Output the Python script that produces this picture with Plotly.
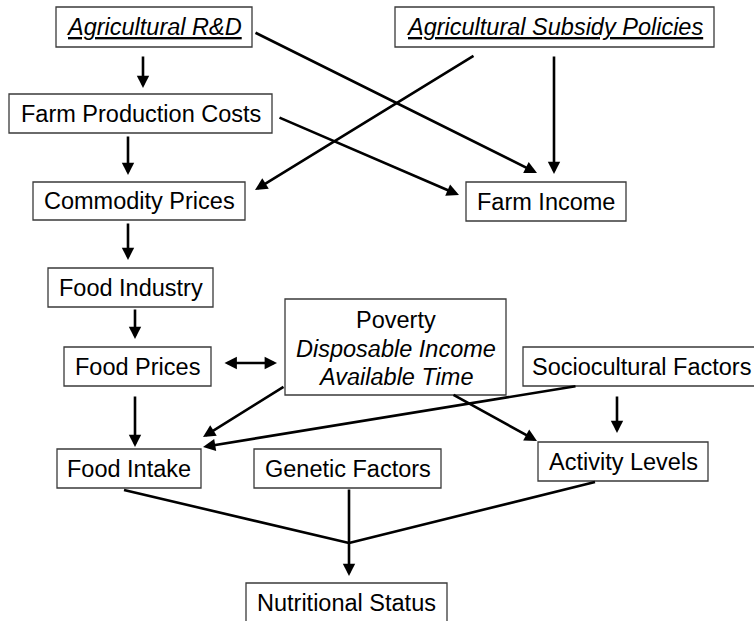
import plotly.graph_objects as go

# ---------------- data ----------------
node_ids = ["rd", "subsidy", "costs", "commodity", "farm_income", "industry",
            "food_prices", "poverty", "socio", "intake", "genetic", "activity", "nutrition"]
node_labels = ["<i><u>Agricultural R&D</u></i>",
               "<i><u>Agricultural Subsidy Policies</u></i>",
               "Farm Production Costs", "Commodity Prices", "Farm Income",
               "Food Industry", "Food Prices", None, "Sociocultural Factors",
               "Food Intake", "Genetic Factors", "Activity Levels", "Nutritional Status"]
poverty_lines = ["Poverty", "<i>Disposable Income</i>", "<i>Available Time</i>"]

arrow_from = ["rd", "rd", "subsidy", "subsidy", "costs", "costs", "commodity", "industry",
              "food_prices", "poverty", "poverty", "socio", "socio", "genetic"]
arrow_to = ["costs", "farm_income", "commodity", "farm_income", "commodity", "farm_income",
            "industry", "food_prices", "intake", "intake", "activity", "intake", "activity",
            "nutrition"]
two_way_from = ["food_prices"]
two_way_to = ["poverty"]
merge_from = ["intake", "activity"]
merge_to = ["nutrition", "nutrition"]

# ---------------- layout geometry (pixels, y down) ----------------
W, H = 754, 621
boxes = {
    "rd": (56, 7, 252, 47),
    "subsidy": (395, 7, 714, 47),
    "costs": (9, 94, 272, 133),
    "commodity": (33, 182, 245, 220),
    "farm_income": (466, 182, 626, 221),
    "industry": (48, 268, 213, 307),
    "food_prices": (64, 347, 211, 386),
    "poverty": (285, 299, 506, 395),
    "socio": (523, 347, 760, 386),
    "intake": (57, 449, 201, 488),
    "genetic": (254, 449, 441, 488),
    "activity": (538, 442, 708, 481),
    "nutrition": (246, 583, 447, 630),
}
text_pos = {"nutrition": (346.5, 603), "socio": (641, 366.5)}
arrow_geom = {
    ("rd", "costs"): ((143, 55), (143, 88)),
    ("rd", "farm_income"): ((254, 32), (537, 173)),
    ("subsidy", "commodity"): ((475, 55), (255, 190)),
    ("subsidy", "farm_income"): ((554, 55), (554, 174)),
    ("costs", "commodity"): ((128, 135), (128, 175)),
    ("costs", "farm_income"): ((278, 117), (459, 195)),
    ("commodity", "industry"): ((128, 222), (128, 260)),
    ("industry", "food_prices"): ((135, 308), (135, 339)),
    ("food_prices", "intake"): ((135, 395), (135, 447)),
    ("poverty", "intake"): ((285, 386), (203, 437)),
    ("poverty", "activity"): ((452, 394), (537, 441)),
    ("socio", "intake"): ((577, 386), (203, 447)),
    ("socio", "activity"): ((617, 395), (617, 433)),
    ("genetic", "nutrition"): ((349, 488), (349, 576)),
}
two_way_geom = {("food_prices", "poverty"): ((223, 363), (277, 363))}
merge_geom = {("intake", "nutrition"): ((124, 490), (349, 543)),
              ("activity", "nutrition"): ((595, 482), (349, 543))}

FONT = dict(family="Arial, Liberation Sans, sans-serif", size=23.5, color="black")

fig = go.Figure()
shapes = []
annotations = []

for nid, lab in zip(node_ids, node_labels):
    x0, y0, x1, y1 = boxes[nid]
    shapes.append(dict(type="rect", xref="x", yref="y", x0=x0, y0=y0, x1=x1, y1=y1,
                       line=dict(color="#3a3a3a", width=1.3), fillcolor="white", layer="below"))
    if lab is not None:
        cx, cy = text_pos.get(nid, ((x0 + x1) / 2, (y0 + y1) / 2))
        annotations.append(dict(x=cx, y=cy, xref="x", yref="y", text=lab, showarrow=False,
                                font=FONT, xanchor="center", yanchor="middle"))

for yy, line in zip([320, 349, 377], poverty_lines):
    annotations.append(dict(x=395.5, y=yy, xref="x", yref="y", text=line, showarrow=False,
                            font=FONT, xanchor="center", yanchor="middle"))

ARROW = dict(showarrow=True, arrowhead=2, arrowsize=0.95, arrowwidth=2.6,
             arrowcolor="black", standoff=0, startstandoff=0, text="",
             xref="x", yref="y", axref="x", ayref="y")

for f, t in zip(arrow_from, arrow_to):
    (tx, ty), (hx, hy) = arrow_geom[(f, t)]
    annotations.append(dict(x=hx, y=hy, ax=tx, ay=ty, **ARROW))

for f, t in zip(two_way_from, two_way_to):
    (tx, ty), (hx, hy) = two_way_geom[(f, t)]
    annotations.append(dict(x=hx, y=hy, ax=tx, ay=ty, arrowside="end+start",
                            startarrowhead=2, startarrowsize=0.95, **ARROW))

for f, t in zip(merge_from, merge_to):
    (x0, y0), (x1, y1) = merge_geom[(f, t)]
    shapes.append(dict(type="line", xref="x", yref="y", x0=x0, y0=y0, x1=x1, y1=y1,
                       line=dict(color="black", width=2.6)))

fig.update_layout(
    width=W, height=H, margin=dict(l=0, r=0, t=0, b=0),
    paper_bgcolor="white", plot_bgcolor="white",
    xaxis=dict(range=[0, W], visible=False, fixedrange=True),
    yaxis=dict(range=[H, 0], visible=False, fixedrange=True),
    shapes=shapes, annotations=annotations, showlegend=False,
)
fig.write_html("out.html", config={"displayModeBar": False},
               post_script="document.body.style.margin='0';document.body.style.overflow='hidden';")
